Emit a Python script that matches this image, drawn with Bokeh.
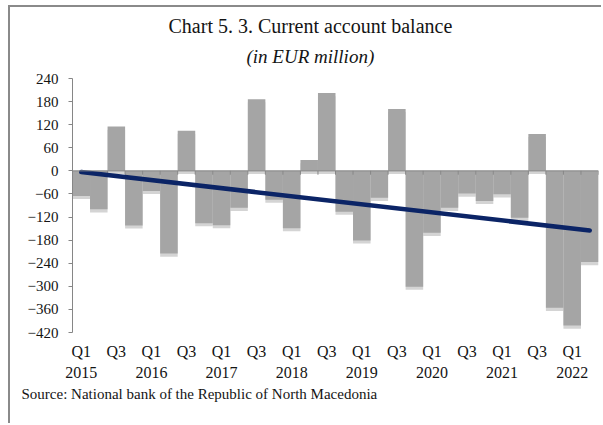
from bokeh.plotting import figure
from bokeh.models import Range1d, LinearAxis, FixedTicker, Span, ColumnDataSource, Title
from bokeh.embed import file_html
from bokeh.resources import INLINE

# ---- data ----
years = ["2015", "2016", "2017", "2018", "2019", "2020", "2021", "2022"]
quarters = ["Q1", "Q2", "Q3", "Q4"] * 7 + ["Q1", "Q2"]
balance = [-65, -100, 115, -142,
           -52, -215, 104, -136,
           -141, -96, 186, -75,
           -149, 28, 202, -106,
           -181, -70, 161, -301,
           -161, -96, -59, -78,
           -61, -122, 96, -356,
           -402, -237]
trend_first_last = [-3, -155]
y_ticks = [240, 180, 120, 60, 0, -60, -120, -180, -240, -300, -360, -420]

title_text = "Chart 5. 3. Current account balance"
subtitle_text = "(in EUR million)"
source_text = "Source: National bank of the Republic of North Macedonia"

FONT = "Liberation Serif"
GRAY_AX = "#868686"
TXT = "#141414"

n = len(balance)
xs = list(range(1, n + 1))
shadow = 8
src = ColumnDataSource(dict(
    x=xs, top=balance,
    s_top=[v - shadow for v in balance],
    s_bot=[-shadow] * n,
))

p = figure(width=593, height=418, output_backend="svg", toolbar_location=None,
           x_range=Range1d(0.5, n + 0.5), y_range=Range1d(-420, 240),
           min_border_left=62, min_border_right=5, min_border_top=71, min_border_bottom=93,
           x_axis_location=None, y_axis_location=None)
p.styles = {"margin-left": "10px", "margin-top": "7px",
            "box-shadow": "-2px -2px 0px 0px #8a8a8a"}
p.outline_line_color = None
p.xgrid.visible = False
p.ygrid.visible = False
p.background_fill_color = "white"
p.border_fill_color = "white"

# bar shadow, bars
p.vbar(x="x", top="s_top", bottom="s_bot", width=1.0, source=src,
       fill_color="#d4d4d4", line_color=None)
p.vbar(x="x", top="top", bottom=0, width=1.0, source=src,
       fill_color="#a5a5a5", line_color=None)

# zero line with category ticks
p.add_layout(Span(location=0, dimension="width", line_color=GRAY_AX, line_width=1))
bounds = [i + 0.5 for i in range(0, n + 1)]
p.segment(x0=bounds, x1=bounds, y0=[0] * len(bounds), y1=[-10] * len(bounds),
          line_color=GRAY_AX, line_width=1)

# trend line
p.line(x=[xs[0], xs[-1]], y=trend_first_last, line_color="#0b2466", line_width=4.5,
       line_cap="round")

# y axis
yax = LinearAxis(ticker=FixedTicker(ticks=y_ticks))
yax.axis_line_color = GRAY_AX
yax.major_tick_line_color = GRAY_AX
yax.major_tick_out = 4
yax.major_tick_in = 0
yax.minor_tick_line_color = None
yax.major_label_text_font = FONT
yax.major_label_text_font_size = "15px"
yax.major_label_text_color = TXT
yax.major_label_standoff = 10
p.add_layout(yax, "left")

# quarter labels and year labels
q_ticks = [x for x, q in zip(xs, quarters) if q in ("Q1", "Q3")]
qax = LinearAxis(ticker=FixedTicker(ticks=q_ticks),
                 major_label_overrides={x: quarters[x - 1] for x in q_ticks})
year_ticks = [x for x, q in zip(xs, quarters) if q == "Q1"]
yrax = LinearAxis(ticker=FixedTicker(ticks=year_ticks),
                  major_label_overrides={x: y for x, y in zip(year_ticks, years)})
for ax, standoff in ((qax, 4), (yrax, -2)):
    ax.axis_line_color = None
    ax.major_tick_line_color = None
    ax.minor_tick_line_color = None
    ax.major_label_text_font = FONT
    ax.major_label_text_font_size = "16px"
    ax.major_label_text_color = TXT
    ax.major_label_standoff = standoff
    p.add_layout(ax, "below")

# titles (subtitle nearest the frame) and source
p.add_layout(Title(text=subtitle_text, align="left", offset=174, standoff=19,
                   vertical_align="top", text_line_height=0.5,
                   text_font=FONT, text_font_style="italic", text_font_size="19px",
                   text_color=TXT), "above")
p.add_layout(Title(text=title_text, align="left", offset=96, standoff=0,
                   vertical_align="bottom", text_line_height=0.5,
                   text_font=FONT, text_font_style="normal", text_font_size="20px",
                   text_color=TXT), "above")
p.add_layout(Title(text=source_text, align="left", offset=-51, standoff=6,
                   vertical_align="bottom", text_line_height=0.3,
                   text_font=FONT, text_font_style="normal", text_font_size="15px",
                   text_color=TXT), "below")

open("out.html", "w").write(file_html(p, INLINE))
